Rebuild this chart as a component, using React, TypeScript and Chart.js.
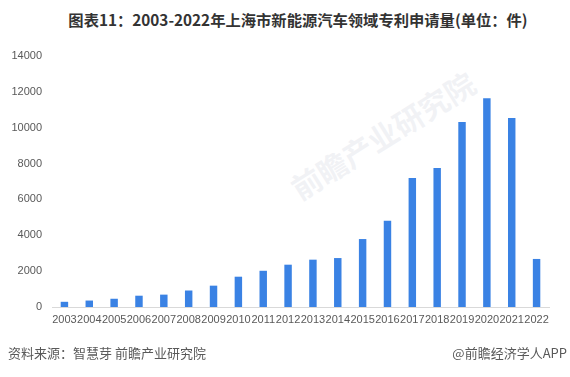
import React, { useEffect, useRef } from "react";
import { Chart, registerables } from "chart.js";

Chart.register(...registerables);

const years = ["2003","2004","2005","2006","2007","2008","2009","2010","2011","2012","2013","2014","2015","2016","2017","2018","2019","2020","2021","2022"];
const applications = [290, 360, 460, 630, 690, 920, 1190, 1690, 2020, 2360, 2640, 2730, 3790, 4810, 7200, 7750, 10320, 11650, 10540, 2680];
const yTicks = [0, 2000, 4000, 6000, 8000, 10000, 12000, 14000];

const titleText = "图表11：2003-2022年上海市新能源汽车领域专利申请量(单位：件)";
const sourceText = "资料来源：智慧芽 前瞻产业研究院";
const creditText = "@前瞻经济学人APP";

export default function App() {
  const ref = useRef<HTMLCanvasElement>(null);
  useEffect(() => {
    if (!ref.current) return;
    const chart = new Chart(ref.current, {
      type: "bar",
      data: {
        labels: years,
        datasets: [{
          data: applications,
          backgroundColor: "#3a82e4",
          barPercentage: 0.3,
          categoryPercentage: 1,
        }],
      },
      options: {
        responsive: false,
        animation: false,
        devicePixelRatio: 1,
        layout: { padding: { left: 8, right: 21, top: 56, bottom: 50 } },
        plugins: { legend: { display: false }, tooltip: { enabled: false }, title: { display: false } },
        scales: {
          x: {
            grid: { display: false, drawTicks: false },
            border: { display: true, color: "#d9d9d9", width: 1 },
            ticks: { color: "#595959", font: { family: "Liberation Sans", size: 11 }, padding: 6, maxRotation: 0, autoSkip: false },
            afterFit: (s: any) => { s.height = 20; },
          },
          y: {
            min: 0,
            max: 14000,
            afterBuildTicks: (s: any) => { s.ticks = yTicks.map((v) => ({ value: v })); },
            grid: { display: false, drawTicks: false },
            border: { display: false },
            ticks: { color: "#595959", font: { family: "Liberation Sans", size: 11 }, padding: 10, callback: (v: any) => String(v) },
            afterFit: (s: any) => { s.width = 44; },
          },
        },
      },
    });
    return () => chart.destroy();
  }, []);

  return (
    <div style={{ position: "absolute", left: 0, top: 0, width: 570, height: 377, background: "#fff", overflow: "hidden" }}>
      <div style={{ position: "absolute", left: 305, top: 165, transform: "rotate(-32deg)", transformOrigin: "left bottom", color: "rgba(225,227,234,0.45)", fontFamily: "Noto Sans CJK SC", fontWeight: 700, fontSize: 30, whiteSpace: "nowrap" }}>前瞻产业研究院</div>
      <div style={{ position: "absolute", left: 13, top: 8, width: 570, display: "flex", justifyContent: "center" }}>
        <span style={{ fontFamily: "Noto Sans CJK SC", fontWeight: 700, fontSize: 15.3, color: "#333", whiteSpace: "nowrap" }}>{titleText}</span>
      </div>
      <canvas ref={ref} width={570} height={377} style={{ position: "absolute", left: 0, top: 0 }} />
      <div style={{ position: "absolute", left: 8, top: 343, fontFamily: "Noto Sans CJK SC", fontSize: 13, color: "#595959", whiteSpace: "nowrap" }}>{sourceText}</div>
      <div style={{ position: "absolute", right: 3, top: 343, fontFamily: "Noto Sans CJK SC", fontSize: 13, color: "#595959", whiteSpace: "nowrap" }}>{creditText}</div>
    </div>
  );
}
